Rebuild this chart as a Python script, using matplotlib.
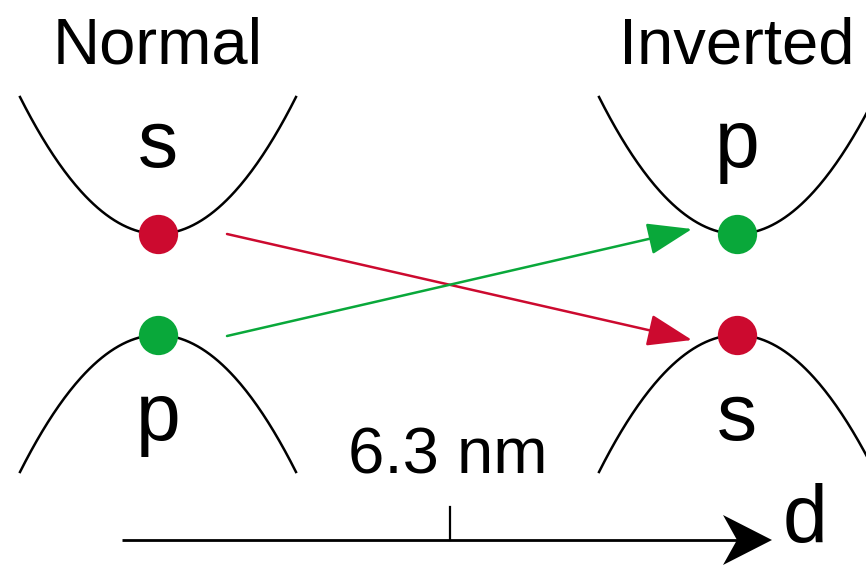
#import library
import matplotlib.pyplot as plt
import numpy as np
from matplotlib.patches import Polygon

plt.rcParams['font.family'] = ['Liberation Sans', 'DejaVu Sans']

#define diagram data (pixel units of the picture)
panel_titles = ["Normal", "Inverted"]
panel_x = [158, 737]
upper_labels = ["s", "p"]
lower_labels = ["p", "s"]
upper_dot_colors = ["#cc0a2f", "#09a83a"]
lower_dot_colors = ["#09a83a", "#cc0a2f"]
cond_min_y = 234
val_max_y = 335
band_half_width = 138
band_depth = 137
thickness_label = "6.3 nm"
thickness_tick = 450
axis_label = "d"

red = "#cc0a2f"
green = "#09a83a"

#define fig covering the whole canvas
fig = plt.figure(figsize=(8.66, 5.66), dpi=100)
ax = fig.add_axes([0, 0, 1, 1])
ax.set_xlim(0, 866)
ax.set_ylim(566, 0)
ax.axis("off")

#bands, dots and labels
for i, cx in enumerate(panel_x):
    x = np.linspace(cx - band_half_width, cx + band_half_width, 200)
    t = ((x - cx) / band_half_width) ** 2
    ax.plot(x, cond_min_y - band_depth * t, color="black", lw=1.8, zorder=2)
    ax.plot(x, val_max_y + band_depth * t, color="black", lw=1.8, zorder=2)
    ax.scatter([cx], [cond_min_y], s=800, color=upper_dot_colors[i], zorder=3, lw=0)
    ax.scatter([cx], [val_max_y], s=800, color=lower_dot_colors[i], zorder=3, lw=0)
    ax.text(cx, 63, panel_titles[i], fontsize=47, ha="center", va="baseline")
    ax.text(cx, 167, upper_labels[i], fontsize=58, ha="center", va="baseline")
    ax.text(cx, 440, lower_labels[i], fontsize=58, ha="center", va="baseline")

#transition arrows
ax.annotate("", xy=(692, 340), xytext=(227, 234),
            arrowprops=dict(arrowstyle="-|>,head_length=1.4,head_width=0.5",
                            color=red, lw=1.8, mutation_scale=20,
                            shrinkA=0, shrinkB=0))
ax.annotate("", xy=(692, 229), xytext=(227, 336),
            arrowprops=dict(arrowstyle="-|>,head_length=1.4,head_width=0.5",
                            color=green, lw=1.8, mutation_scale=20,
                            shrinkA=0, shrinkB=0))

#thickness axis
ax.plot([122, 745], [540, 540], color="black", lw=2, solid_capstyle="butt")
ax.add_patch(Polygon([[772, 540], [723, 515], [737, 540], [723, 565]],
                     closed=True, color="black", lw=0))
ax.plot([thickness_tick, thickness_tick], [507, 540], color="black", lw=1.6)
ax.text(448, 473, thickness_label, fontsize=47, ha="center", va="baseline")
ax.text(805, 542, axis_label, fontsize=58, ha="center", va="baseline")

plt.savefig("out.png", dpi=100)
